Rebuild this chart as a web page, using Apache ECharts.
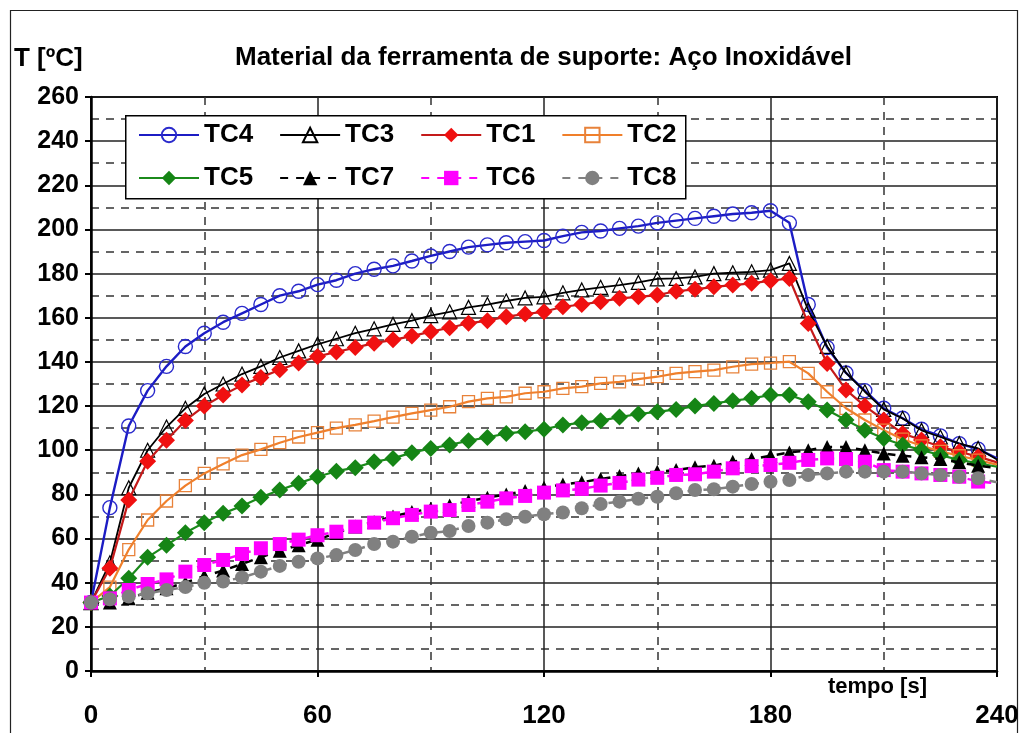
<!DOCTYPE html>
<html>
<head>
<meta charset="utf-8">
<script src="https://cdn.jsdelivr.net/npm/echarts@6/dist/echarts.min.js"></script>
<style>
html,body{margin:0;padding:0;background:#fff;}
#chart{width:1023px;height:733px;}
</style>
</head>
<body>
<div id="chart"></div>
<script>
var times = [0,5,10,15,20,25,30,35,40,45,50,55,60,65,70,75,80,85,90,95,100,105,110,115,120,125,130,135,140,145,150,155,160,165,170,175,180,185,190,195,200,205,210,215,220,225,230,235,240];
var seriesNames = ['TC4','TC3','TC1','TC2','TC5','TC7','TC6','TC8'];
var tc4 = [31,74,111,127,138,147,153,158,162,166,170,172,175,177,180,182,183.5,185.7,188,190,192,193,194,194.5,195,197,198.7,199.3,200.5,201.5,203,204,205,206,207,207.6,208.5,203,166,146.5,135,127,119,114.5,109.5,106.5,103,100.5,96.3];
var tc3 = [31,49,83,100,110.5,119,125.5,130,134.5,138,142,145,148,150.5,153,155,157,158.7,161,162.7,164.7,166,167.6,169,169.5,171.3,172.6,173.8,174.8,176,177.6,177.8,178.5,180,180.4,180.8,181.6,184.6,163.5,147,135,126.5,118.5,114.4,109,106,103,100.8,95.8];
var tc1 = [31,46.5,77.5,95,104.5,113.5,120,125,129.5,133,136.5,139.5,142.5,144.5,146.5,148.5,150,151.7,153.7,155.5,157.5,158.7,160.5,161.7,162.7,165,166,167.3,168.8,169.5,170.3,172,172.9,174,174.8,175.6,176.8,177.8,157.4,139.3,127.3,120,113.7,107.6,104.6,101.6,99.3,97.1,94.5];
var tc2 = [31,38,55,68.4,77,84,89.5,93.8,97.8,100.4,103.4,106,108,110,111.5,113.2,115,116.7,118.2,119.7,122,123.5,124.2,125.8,126.5,128,128.8,130.3,131,132.2,133.3,134.8,135.6,136.3,137.8,139,139.5,140.1,134.8,126.5,119,113.7,109.1,105,102,99.5,97.5,95.5,93.5];
var tc5 = [31,34,42,51.5,57,62.6,67.2,71.4,74.7,78.7,82,85,88,90.5,92.1,94.8,96.3,98.9,100.8,102.4,104.3,105.8,107.6,108.4,109.5,111.4,112.5,113.4,115,116.4,117.4,118.5,120,121.2,122.4,123.5,125,125,122,118.2,113.7,109.1,105.3,102.4,100.1,97.8,95.6,94.1,92.5];
var tc7 = [31,31,33,35.5,37.5,40,43,45.5,48.5,51.5,54.5,57,59.5,62.5,65.5,67.5,70,72,73.5,75,77,78.5,80,81.5,83,84.5,85.5,87,88.3,89.5,90.3,91,92.3,93,94.8,96,97.5,99,100,101.5,101.5,100,98.5,97.5,96.8,96,94.5,93,92];
var tc6 = [31,32.9,36.7,39.4,41.5,45,48,50.3,53,55.6,57.5,59.5,61.5,63.1,65.4,67.2,69.2,70.7,72.2,72.9,75.2,76.7,78.2,79.3,80.8,81.8,82.5,84,85.2,86.7,87.5,88.8,89.1,90.3,91.8,92.8,93.3,94.3,95.6,96.3,96,94.8,91,90.3,89.5,88.8,88,85.8,85];
var tc8 = [31,32.5,33.7,35.2,36.7,38,40,40.5,42.4,45,47.6,49.5,51,52.5,54.8,57.5,58.6,60.8,62.6,63.4,65.7,67.2,68.7,69.9,71,71.8,73.7,75.6,76.7,78,78.9,80.5,82,82.3,83.5,84.7,85.7,86.5,88.8,89.5,90.3,90.3,90.3,90.3,89.5,88.8,88,87.3,85.5];
var xTicks = [0,60,120,180,240];
var yTicks = [0,20,40,60,80,100,120,140,160,180,200,220,240,260];

var FONT = '"Liberation Sans", Arial, sans-serif';

function pairs(vals){
  return times.map(function(t,i){
    var item = {value:[t, vals[i]]};
    if (i === times.length-1) item.symbol = 'none';
    return item;
  });
}

var styles = {
  TC4:{line:'#1c1cc4', sym:'circle', size:14, fill:'rgba(255,255,255,0)', border:'#2a2acc', bw:1.4, type:'solid', w:2.4},
  TC3:{line:'#000000', sym:'triangle', size:14, fill:'rgba(255,255,255,0)', border:'#000', bw:1.2, type:'solid', w:1.8},
  TC1:{line:'#c41a1a', sym:'diamond', size:17, fill:'#f01010', border:'#f01010', bw:0, type:'solid', w:2.2},
  TC2:{line:'#f07f2a', sym:'rect', size:12, fill:'rgba(255,255,255,0)', border:'#e8823a', bw:1.3, type:'solid', w:2.2},
  TC5:{line:'#1b8a1b', sym:'diamond', size:17, fill:'#158515', border:'#158515', bw:0, type:'solid', w:2.2},
  TC7:{line:'#000000', sym:'triangle', size:14, fill:'#000', border:'#000', bw:0, type:[8,8], w:2.5},
  TC6:{line:'#ff00ff', sym:'rect', size:14, fill:'#ff00ff', border:'#ff00ff', bw:0, type:[8,8], w:2.5},
  TC8:{line:'#808080', sym:'circle', size:14, fill:'#808080', border:'#808080', bw:0, type:[8,8], w:2.5}
};
var dataMap = {TC4:tc4, TC3:tc3, TC1:tc1, TC2:tc2, TC5:tc5, TC7:tc7, TC6:tc6, TC8:tc8};

var series = seriesNames.map(function(n, k){
  var s = styles[n];
  return {
    name:n, type:'line', data:pairs(dataMap[n]),
    symbol:s.sym, symbolSize:s.size, showAllSymbol:true,
    lineStyle:{color:s.line, width:s.w, type:s.type},
    itemStyle:{color:s.fill, borderColor:s.border, borderWidth:s.bw},
    z:2+k*0.1, animation:false, clip:true
  };
});

var legendBase = {
  itemWidth:60, itemHeight:18, itemGap:26, orient:'horizontal', z:10,
  textStyle:{fontFamily:FONT, fontSize:26, fontWeight:'bold', color:'#000'},
  padding:0
};

var option = {
  animation:false,
  backgroundColor:'#fff',
  grid:{left:91, right:26, top:97, bottom:62, show:true, borderColor:'#000', borderWidth:2, backgroundColor:'transparent'},
  xAxis:{
    type:'value', min:0, max:240, interval:60,
    axisLine:{show:true, onZero:false, lineStyle:{color:'#000', width:2.5}},
    axisTick:{show:true, length:6, inside:false, lineStyle:{color:'#000', width:2}},
    axisLabel:{margin:32, fontFamily:FONT, fontSize:26, fontWeight:'bold', color:'#000', formatter:function(v){return xTicks.indexOf(v)>=0? String(v):'';}},
    splitLine:{show:true, lineStyle:{color:'#222', width:1.5, type:'solid'}},
    minorTick:{show:false, splitNumber:2},
    minorSplitLine:{show:true, lineStyle:{color:'#333', width:1.5, type:[8,7]}}
  },
  yAxis:{
    type:'value', min:0, max:260, interval:20,
    axisLine:{show:true, lineStyle:{color:'#000', width:2.5}},
    axisTick:{show:true, length:6, lineStyle:{color:'#000', width:2}},
    axisLabel:{margin:12, fontFamily:FONT, fontSize:25, fontWeight:'bold', color:'#000', formatter:function(v){return yTicks.indexOf(v)>=0? String(v):'';}},
    splitLine:{show:true, lineStyle:{color:'#222', width:1.5, type:'solid'}},
    minorTick:{show:false, splitNumber:2},
    minorSplitLine:{show:true, lineStyle:{color:'#333', width:1.5, type:[8,7]}}
  },
  legend:[
    Object.assign({}, legendBase, {data:seriesNames.slice(0,4), left:138, top:122}),
    Object.assign({}, legendBase, {data:seriesNames.slice(4,8), left:138, top:165})
  ],
  graphic:[
    {type:'rect', left:8, top:8, shape:{width:1007, height:740}, style:{fill:'none', stroke:'#222', lineWidth:1.2}, z:0, silent:true},
    {type:'rect', left:125, top:115, shape:{width:560, height:83}, style:{fill:'#fff', stroke:'#000', lineWidth:1.5}, z:9, silent:true},
    {type:'text', left:235, top:45, style:{text:'Material da ferramenta de suporte: Aço Inoxidável', font:'bold 26px '+FONT, fill:'#000'}, z:10},
    {type:'text', left:14, top:46, style:{text:'T [ºC]', font:'bold 26px '+FONT, fill:'#000'}, z:10},
    {type:'text', left:828, top:676, style:{text:'tempo [s]', font:'bold 22px '+FONT, fill:'#000'}, z:10}
  ],
  series:series
};

var chart = echarts.init(document.getElementById('chart'), null, {renderer:'canvas'});
chart.setOption(option);
</script>
</body>
</html>
